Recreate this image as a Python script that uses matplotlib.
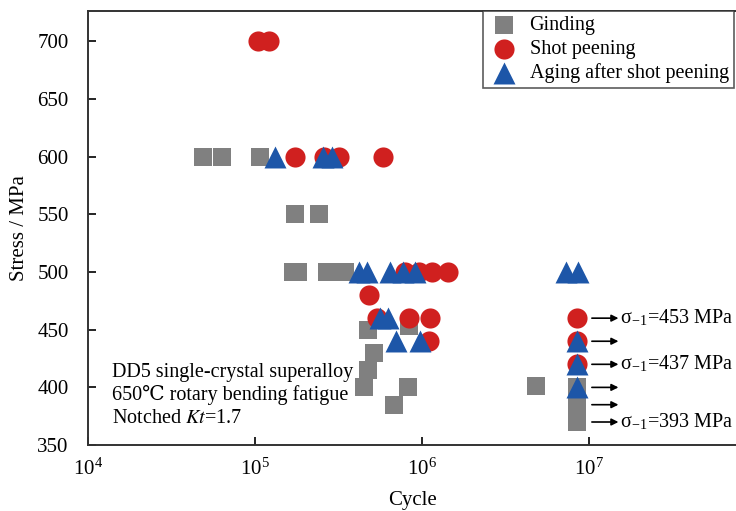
"""
S-N data for DD5 single-crystal superalloy, grinding vs shot peening
"""

import matplotlib
matplotlib.use("Agg")
import matplotlib.pyplot as plt
from matplotlib.ticker import LogLocator, NullLocator

plt.rcParams['font.family'] = ['Liberation Serif', 'DejaVu Serif']
plt.rcParams['mathtext.fontset'] = 'stix'

# grinding (gray squares)
grind_cycles = [4.9e4, 6.3e4, 1.07e5, 1.73e5, 2.41e5, 1.68e5, 1.82e5, 2.68e5, 3.45e5,
                4.74e5, 8.4e5, 5.14e5, 4.74e5, 4.47e5, 8.2e5, 6.8e5, 4.79e6,
                8.5e6, 8.5e6, 8.5e6]
grind_stress = [600, 600, 600, 550, 550, 500, 500, 500, 500,
                450, 453, 430, 415, 400, 400, 385, 401,
                400, 385, 370]

# shot peening (red circles)
shot_cycles = [1.04e5, 1.22e5, 1.73e5, 2.6e5, 3.18e5, 5.87e5,
               7.87e5, 9.6e5, 1.15e6, 1.44e6, 4.8e5,
               5.35e5, 8.4e5, 1.11e6, 1.1e6,
               8.5e6, 8.5e6, 8.5e6]
shot_stress = [700, 700, 600, 600, 600, 600,
               500, 500, 500, 500, 480,
               460, 460, 460, 440,
               460, 440, 420]

# aging after shot peening (blue triangles)
aging_cycles = [1.31e5, 2.57e5, 2.9e5,
                4.2e5, 4.68e5, 6.45e5, 7.66e5, 9.1e5, 7.3e6, 8.6e6,
                5.64e5, 6.28e5, 6.98e5, 9.74e5,
                8.5e6, 8.5e6, 8.5e6]
aging_stress = [600, 600, 600,
                500, 500, 500, 500, 500, 500, 500,
                460, 460, 440, 440,
                440, 420, 400]

# run-out arrows and fatigue limits
arrow_stress = [460, 440, 420, 400, 385, 370]
limit_stress = [460, 420, 370]
limit_labels = ['453', '437', '393']

GRAY = '#808080'
RED = '#d0201f'
BLUE = '#1d56a8'

fig = plt.figure(figsize=(7.36, 5.11), dpi=100)
ax = fig.add_axes([0.1196, 0.129, 0.8804, 0.849])

ax.scatter(grind_cycles, grind_stress, marker='s', s=150, color=GRAY,
           linewidths=0, label='Ginding', zorder=3)
ax.scatter(shot_cycles, shot_stress, marker='o', s=210, color=RED,
           linewidths=0, label='Shot peening', zorder=4)
ax.scatter(aging_cycles, aging_stress, marker='^', s=250, color=BLUE,
           linewidths=0, label='Aging after shot peening', zorder=5)

ax.set_xscale('log')
ax.set_xlim(1e4, 10 ** 7.88)
ax.set_ylim(350, 726)
ax.set_yticks(range(350, 701, 50))
ax.xaxis.set_major_locator(LogLocator(base=10, numticks=10))
ax.xaxis.set_minor_locator(NullLocator())
ax.tick_params(direction='in', length=6, width=1.2, labelsize=15)
ax.tick_params(axis='y', pad=14)
ax.tick_params(axis='x', pad=10)

for side in ['left', 'bottom', 'top']:
    ax.spines[side].set_linewidth(1.4)
    ax.spines[side].set_color('#333333')
ax.spines['right'].set_visible(False)

ax.set_xlabel('Cycle', fontsize=15, labelpad=8)
ax.set_ylabel('Stress / MPa', fontsize=15, labelpad=6)

# run-out arrows
for s in arrow_stress:
    ax.annotate('', xy=(1.5e7, s), xytext=(1.04e7, s),
                arrowprops=dict(arrowstyle='-|>', color='black', lw=1.2,
                                mutation_scale=10, shrinkA=0, shrinkB=0))
for s, lab in zip(limit_stress, limit_labels):
    ax.text(1.53e7, s, '\u03c3$_{\\mathregular{-1}}$=' + lab + ' MPa',
            fontsize=14.5, va='center', ha='left')

ax.text(1.4e4, 413, 'DD5 single-crystal superalloy', fontsize=14.5, va='center')
ax.text(1.4e4, 393, '650\u2103 rotary bending fatigue', fontsize=14.5, va='center')
ax.text(1.4e4, 373, r'Notched $\it{Kt}$=1.7', fontsize=14.5, va='center')

leg = ax.legend(loc='upper left', bbox_to_anchor=(0.61, 1.0), borderaxespad=0,
                fontsize=14.5, frameon=True, fancybox=False, handletextpad=0.45,
                handlelength=1.6, labelspacing=0.22, borderpad=0.25,
                scatterpoints=1)
leg.get_frame().set_edgecolor('#333333')
leg.get_frame().set_linewidth(1.2)

fig.savefig('out.png', dpi=100)
